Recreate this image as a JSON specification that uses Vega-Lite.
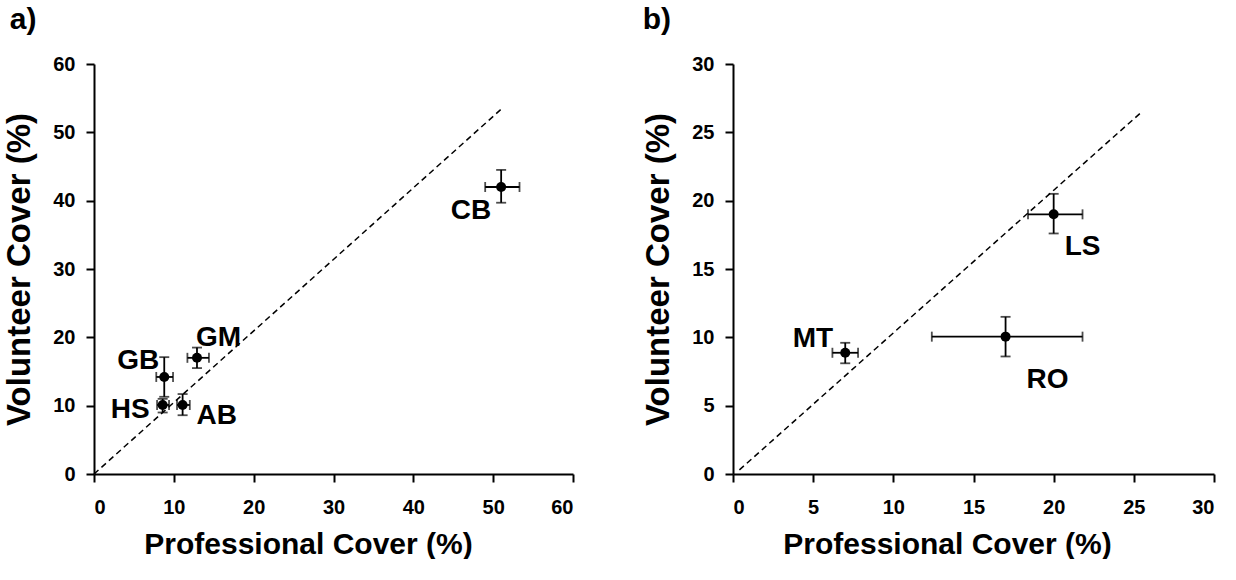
{
  "$schema": "https://vega.github.io/schema/vega-lite/v6.json",
  "background": "white",
  "padding": {"left": 3, "top": 0, "right": 5, "bottom": 0},
  "spacing": 68,
  "config": {
    "view": {"stroke": null},
    "font": "Liberation Sans",
    "axis": {
      "domainColor": "black", "domainWidth": 2, "tickColor": "black", "tickWidth": 2, "tickSize": 8,
      "labelFont": "Liberation Sans", "labelFontWeight": "bold", "labelFontSize": 20, "labelColor": "black",
      "titleFont": "Liberation Sans", "titleFontWeight": "bold", "titleColor": "black",
      "grid": false
    },
    "axisX": {"titlePadding": 12, "labelPadding": 15, "titleFontSize": 30, "titleX": 214},
    "axisY": {"titlePadding": 16, "labelPadding": 11, "titleFontSize": 33},
    "title": {"font": "Liberation Sans", "fontWeight": "bold", "fontSize": 30, "color": "black", "anchor": "start", "frame": "bounds"}
  },
  "datasets": {
    "a": [
      {"site": "CB", "px": 51.0, "pxlo": 49.0, "pxhi": 53.3, "py": 42.0, "pylo": 39.7, "pyhi": 44.5},
      {"site": "GM", "px": 12.9, "pxlo": 11.7, "pxhi": 14.4, "py": 17.0, "pylo": 15.5, "pyhi": 18.5},
      {"site": "GB", "px": 8.8, "pxlo": 7.8, "pxhi": 9.9, "py": 14.2, "pylo": 11.3, "pyhi": 17.1},
      {"site": "HS", "px": 8.6, "pxlo": 7.9, "pxhi": 9.4, "py": 10.1, "pylo": 9.0, "pyhi": 11.0},
      {"site": "AB", "px": 11.1, "pxlo": 10.4, "pxhi": 12.0, "py": 10.1, "pylo": 8.6, "pyhi": 11.7}
    ],
    "la": [{"lx": 0, "ly": 0}, {"lx": 51.3, "ly": 53.7}],
    "b": [
      {"site": "LS", "px": 20.0, "pxlo": 18.4, "pxhi": 21.8, "py": 19.0, "pylo": 17.6, "pyhi": 20.5},
      {"site": "RO", "px": 17.0, "pxlo": 12.4, "pxhi": 21.8, "py": 10.05, "pylo": 8.6, "pyhi": 11.5},
      {"site": "MT", "px": 7.0, "pxlo": 6.2, "pxhi": 7.8, "py": 8.87, "pylo": 8.1, "pyhi": 9.6}
    ],
    "lb": [{"lx": 0.4, "ly": 0.3}, {"lx": 25.4, "ly": 26.4}]
  },
  "hconcat": [
    {
      "vconcat": [
        {
          "title": {"text": [" ", "a)"], "lineHeight": 5, "offset": 19, "dx": 6},
          "width": 479, "height": 410,
          "data": {"name": "a"},
          "layer": [
            {
              "data": {"name": "la"},
              "mark": {"type": "line", "color": "black", "strokeWidth": 1.5, "strokeDash": [6, 4]},
              "encoding": {
                "x": {"field": "lx", "type": "quantitative", "title": "Professional Cover (%)", "scale": {"domain": [0, 60], "nice": false}, "axis": {"values": [0, 10, 20, 30, 40, 50, 60]}},
                "y": {"field": "ly", "type": "quantitative", "title": "Volunteer Cover (%)", "scale": {"domain": [0, 60], "nice": false}, "axis": {"values": [0, 10, 20, 30, 40, 50, 60]}}
              }
            },
            {
              "mark": {"type": "rule", "color": "black", "strokeWidth": 1.8},
              "encoding": {
                "x": {"field": "pxlo", "type": "quantitative", "title": "Professional Cover (%)"},
                "x2": {"field": "pxhi"},
                "y": {"field": "py", "type": "quantitative", "title": "Volunteer Cover (%)"}
              }
            },
            {
              "mark": {"type": "rule", "color": "black", "strokeWidth": 1.8},
              "encoding": {
                "x": {"field": "px", "type": "quantitative", "title": "Professional Cover (%)"},
                "y": {"field": "pylo", "type": "quantitative", "title": "Volunteer Cover (%)"},
                "y2": {"field": "pyhi"}
              }
            },
            {
              "mark": {"type": "tick", "orient": "vertical", "color": "black", "size": 10, "thickness": 1.8},
              "encoding": {
                "x": {"field": "pxlo", "type": "quantitative", "title": "Professional Cover (%)"},
                "y": {"field": "py", "type": "quantitative", "title": "Volunteer Cover (%)"}
              }
            },
            {
              "mark": {"type": "tick", "orient": "vertical", "color": "black", "size": 10, "thickness": 1.8},
              "encoding": {
                "x": {"field": "pxhi", "type": "quantitative", "title": "Professional Cover (%)"},
                "y": {"field": "py", "type": "quantitative", "title": "Volunteer Cover (%)"}
              }
            },
            {
              "mark": {"type": "tick", "orient": "horizontal", "color": "black", "size": 10, "thickness": 1.8},
              "encoding": {
                "x": {"field": "px", "type": "quantitative", "title": "Professional Cover (%)"},
                "y": {"field": "pylo", "type": "quantitative", "title": "Volunteer Cover (%)"}
              }
            },
            {
              "mark": {"type": "tick", "orient": "horizontal", "color": "black", "size": 10, "thickness": 1.8},
              "encoding": {
                "x": {"field": "px", "type": "quantitative", "title": "Professional Cover (%)"},
                "y": {"field": "pyhi", "type": "quantitative", "title": "Volunteer Cover (%)"}
              }
            },
            {
              "mark": {"type": "point", "filled": true, "color": "black", "size": 100, "opacity": 1},
              "encoding": {
                "x": {"field": "px", "type": "quantitative", "title": "Professional Cover (%)"},
                "y": {"field": "py", "type": "quantitative", "title": "Volunteer Cover (%)"}
              }
            },
            {
              "transform": [{"filter": "datum.site === 'CB'"}],
              "mark": {"type": "text", "font": "Liberation Sans", "fontWeight": "bold", "fontSize": 28, "color": "black", "align": "right", "baseline": "alphabetic", "dx": -10, "dy": 32},
              "encoding": {"x": {"field": "px", "type": "quantitative"}, "y": {"field": "py", "type": "quantitative"}, "text": {"field": "site"}}
            },
            {
              "transform": [{"filter": "datum.site === 'GM'"}],
              "mark": {"type": "text", "font": "Liberation Sans", "fontWeight": "bold", "fontSize": 28, "color": "black", "align": "left", "baseline": "alphabetic", "dx": -1, "dy": -12},
              "encoding": {"x": {"field": "px", "type": "quantitative"}, "y": {"field": "py", "type": "quantitative"}, "text": {"field": "site"}}
            },
            {
              "transform": [{"filter": "datum.site === 'GB'"}],
              "mark": {"type": "text", "font": "Liberation Sans", "fontWeight": "bold", "fontSize": 28, "color": "black", "align": "right", "baseline": "alphabetic", "dx": -5, "dy": -8},
              "encoding": {"x": {"field": "px", "type": "quantitative"}, "y": {"field": "py", "type": "quantitative"}, "text": {"field": "site"}}
            },
            {
              "transform": [{"filter": "datum.site === 'HS'"}],
              "mark": {"type": "text", "font": "Liberation Sans", "fontWeight": "bold", "fontSize": 28, "color": "black", "align": "right", "baseline": "alphabetic", "dx": -13, "dy": 13},
              "encoding": {"x": {"field": "px", "type": "quantitative"}, "y": {"field": "py", "type": "quantitative"}, "text": {"field": "site"}}
            },
            {
              "transform": [{"filter": "datum.site === 'AB'"}],
              "mark": {"type": "text", "font": "Liberation Sans", "fontWeight": "bold", "fontSize": 28, "color": "black", "align": "left", "baseline": "alphabetic", "dx": 14, "dy": 19},
              "encoding": {"x": {"field": "px", "type": "quantitative"}, "y": {"field": "py", "type": "quantitative"}, "text": {"field": "site"}}
            }
          ]
        }
      ]
    },
    {
      "vconcat": [
        {
          "title": {"text": "b)", "offset": 19, "dx": 0},
          "width": 481, "height": 410,
          "data": {"name": "b"},
          "layer": [
            {
              "data": {"name": "lb"},
              "mark": {"type": "line", "color": "black", "strokeWidth": 1.5, "strokeDash": [6, 4]},
              "encoding": {
                "x": {"field": "lx", "type": "quantitative", "title": "Professional Cover (%)", "scale": {"domain": [0, 30], "nice": false}, "axis": {"values": [0, 5, 10, 15, 20, 25, 30]}},
                "y": {"field": "ly", "type": "quantitative", "title": "Volunteer Cover (%)", "scale": {"domain": [0, 30], "nice": false}, "axis": {"values": [0, 5, 10, 15, 20, 25, 30]}}
              }
            },
            {
              "mark": {"type": "rule", "color": "black", "strokeWidth": 1.8},
              "encoding": {
                "x": {"field": "pxlo", "type": "quantitative", "title": "Professional Cover (%)"},
                "x2": {"field": "pxhi"},
                "y": {"field": "py", "type": "quantitative", "title": "Volunteer Cover (%)"}
              }
            },
            {
              "mark": {"type": "rule", "color": "black", "strokeWidth": 1.8},
              "encoding": {
                "x": {"field": "px", "type": "quantitative", "title": "Professional Cover (%)"},
                "y": {"field": "pylo", "type": "quantitative", "title": "Volunteer Cover (%)"},
                "y2": {"field": "pyhi"}
              }
            },
            {
              "mark": {"type": "tick", "orient": "vertical", "color": "black", "size": 10, "thickness": 1.8},
              "encoding": {
                "x": {"field": "pxlo", "type": "quantitative", "title": "Professional Cover (%)"},
                "y": {"field": "py", "type": "quantitative", "title": "Volunteer Cover (%)"}
              }
            },
            {
              "mark": {"type": "tick", "orient": "vertical", "color": "black", "size": 10, "thickness": 1.8},
              "encoding": {
                "x": {"field": "pxhi", "type": "quantitative", "title": "Professional Cover (%)"},
                "y": {"field": "py", "type": "quantitative", "title": "Volunteer Cover (%)"}
              }
            },
            {
              "mark": {"type": "tick", "orient": "horizontal", "color": "black", "size": 10, "thickness": 1.8},
              "encoding": {
                "x": {"field": "px", "type": "quantitative", "title": "Professional Cover (%)"},
                "y": {"field": "pylo", "type": "quantitative", "title": "Volunteer Cover (%)"}
              }
            },
            {
              "mark": {"type": "tick", "orient": "horizontal", "color": "black", "size": 10, "thickness": 1.8},
              "encoding": {
                "x": {"field": "px", "type": "quantitative", "title": "Professional Cover (%)"},
                "y": {"field": "pyhi", "type": "quantitative", "title": "Volunteer Cover (%)"}
              }
            },
            {
              "mark": {"type": "point", "filled": true, "color": "black", "size": 100, "opacity": 1},
              "encoding": {
                "x": {"field": "px", "type": "quantitative", "title": "Professional Cover (%)"},
                "y": {"field": "py", "type": "quantitative", "title": "Volunteer Cover (%)"}
              }
            },
            {
              "transform": [{"filter": "datum.site === 'LS'"}],
              "mark": {"type": "text", "font": "Liberation Sans", "fontWeight": "bold", "fontSize": 28, "color": "black", "align": "left", "baseline": "alphabetic", "dx": 11, "dy": 41},
              "encoding": {"x": {"field": "px", "type": "quantitative"}, "y": {"field": "py", "type": "quantitative"}, "text": {"field": "site"}}
            },
            {
              "transform": [{"filter": "datum.site === 'RO'"}],
              "mark": {"type": "text", "font": "Liberation Sans", "fontWeight": "bold", "fontSize": 28, "color": "black", "align": "left", "baseline": "alphabetic", "dx": 21, "dy": 51},
              "encoding": {"x": {"field": "px", "type": "quantitative"}, "y": {"field": "py", "type": "quantitative"}, "text": {"field": "site"}}
            },
            {
              "transform": [{"filter": "datum.site === 'MT'"}],
              "mark": {"type": "text", "font": "Liberation Sans", "fontWeight": "bold", "fontSize": 28, "color": "black", "align": "right", "baseline": "alphabetic", "dx": -12, "dy": -6},
              "encoding": {"x": {"field": "px", "type": "quantitative"}, "y": {"field": "py", "type": "quantitative"}, "text": {"field": "site"}}
            }
          ]
        }
      ]
    }
  ]
}
